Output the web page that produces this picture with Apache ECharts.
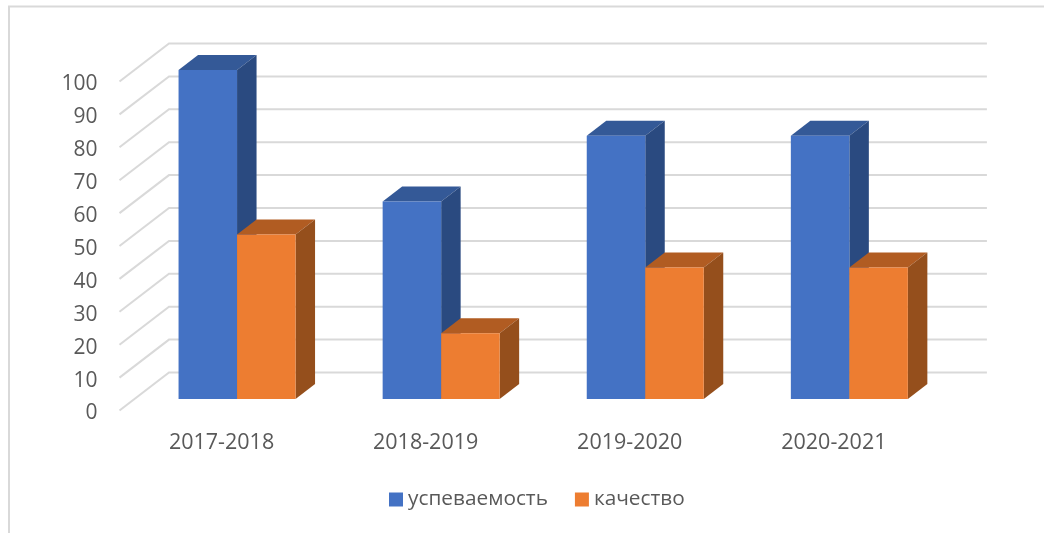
<!DOCTYPE html>
<html>
<head>
<meta charset="utf-8">
<style>
    html, body { margin: 0; padding: 0; background: #fff; }
    #main { width: 1044px; height: 533px; }
</style>
<script src="https://cdn.jsdelivr.net/npm/echarts@6/dist/echarts.min.js"></script>
</head>
<body>
<div id="main"></div>
<script>
var categories = ['2017-2018', '2018-2019', '2019-2020', '2020-2021'];
var uspevaemost = [100, 60, 80, 80];
var kachestvo = [50, 20, 40, 40];
var yTicks = [0, 10, 20, 30, 40, 50, 60, 70, 80, 90, 100];

// псевдо-3D: сдвиг плоскости столбцов и глубина
var wallDx = 49.5, wallDy = 38;
var planeDx = 15.5, planeDy = 11.5;
var depthDx = 19.5, depthDy = 15;
var barWidth = 58.5;

function wallItem(params, api) {
    var cs = params.coordSys;
    var p = api.coord([0, api.value(1)]);
    return {
        type: 'polyline',
        silent: true,
        shape: {
            points: [
                [cs.x, p[1]],
                [cs.x + wallDx, p[1] - wallDy],
                [cs.x + cs.width + wallDx + 1.5, p[1] - wallDy]
            ]
        },
        style: { fill: null, stroke: '#d9d9d9', lineWidth: 2 }
    };
}

function barRenderer(side, topColor, sideColor) {
    return function (params, api) {
        var top = api.coord([api.value(0), api.value(1)]);
        var base = api.coord([api.value(0), 0]);
        var x0 = top[0] + planeDx + (side < 0 ? -barWidth : 0);
        var x1 = x0 + barWidth;
        var y0 = top[1] - planeDy;
        var y1 = base[1] - planeDy;
        return {
            type: 'group',
            children: [
                {
                    type: 'polygon',
                    shape: { points: [[x0, y0], [x1, y0], [x1 + depthDx, y0 - depthDy], [x0 + depthDx, y0 - depthDy]] },
                    style: { fill: topColor }
                },
                {
                    type: 'polygon',
                    shape: { points: [[x1, y0], [x1 + depthDx, y0 - depthDy], [x1 + depthDx, y1 - depthDy], [x1, y1]] },
                    style: { fill: sideColor }
                },
                {
                    type: 'rect',
                    shape: { x: x0, y: y0, width: barWidth, height: y1 - y0 },
                    style: { fill: api.visual('color') }
                }
            ]
        };
    };
}

function toPoints(values) {
    return values.map(function (v, i) {
        return [i, v];
    });
}

var textColor = '#595959';
var fontName = '"Open Sans", sans-serif';
var chart = echarts.init(document.getElementById('main'));
chart.setOption({
    animation: false,
    backgroundColor: '#fff',
    grid: { left: 119.5, top: 81.5, width: 816.4, height: 329 },
    legend: {
        left: 384,
        top: 484,
        itemWidth: 14,
        itemHeight: 14,
        itemGap: 27,
        icon: 'rect',
        data: ['успеваемость', 'качество'],
        textStyle: { color: textColor, fontFamily: fontName, fontSize: 20.8 }
    },
    xAxis: {
        type: 'category',
        data: categories,
        axisLine: { show: false },
        axisTick: { show: false },
        axisLabel: { color: textColor, fontFamily: fontName, fontSize: 21.5, margin: 21 }
    },
    yAxis: {
        type: 'value',
        min: 0,
        max: 100,
        interval: 10,
        axisLine: { show: false },
        axisTick: { show: false },
        splitLine: { show: false },
        axisLabel: {
            margin: 22,
            formatter: '{tick|{value}}',
            rich: {
                // подписи оси чуть ниже середины деления
                tick: { color: textColor, fontFamily: fontName, fontSize: 21, padding: [6, 0, 0, 0] }
            }
        }
    },
    graphic: [
        {
            type: 'polyline',
            silent: true,
            shape: { points: [[9, 533], [9, 6.5], [1044, 6.5]] },
            style: { fill: null, stroke: '#d9d9d9', lineWidth: 2 }
        }
    ],
    series: [
        {
            type: 'custom',
            name: 'стенки',
            silent: true,
            clip: false,
            z: 1,
            renderItem: wallItem,
            data: yTicks.map(function (t) { return [0, t]; })
        },
        {
            type: 'custom',
            name: 'успеваемость',
            clip: false,
            z: 2,
            itemStyle: { color: '#4472C4' },
            renderItem: barRenderer(-1, '#345997', '#2a4a80'),
            data: toPoints(uspevaemost)
        },
        {
            type: 'custom',
            name: 'качество',
            clip: false,
            z: 3,
            itemStyle: { color: '#ED7D31' },
            renderItem: barRenderer(1, '#b15c22', '#954f1c'),
            data: toPoints(kachestvo)
        }
    ]
});
</script>
</body>
</html>
